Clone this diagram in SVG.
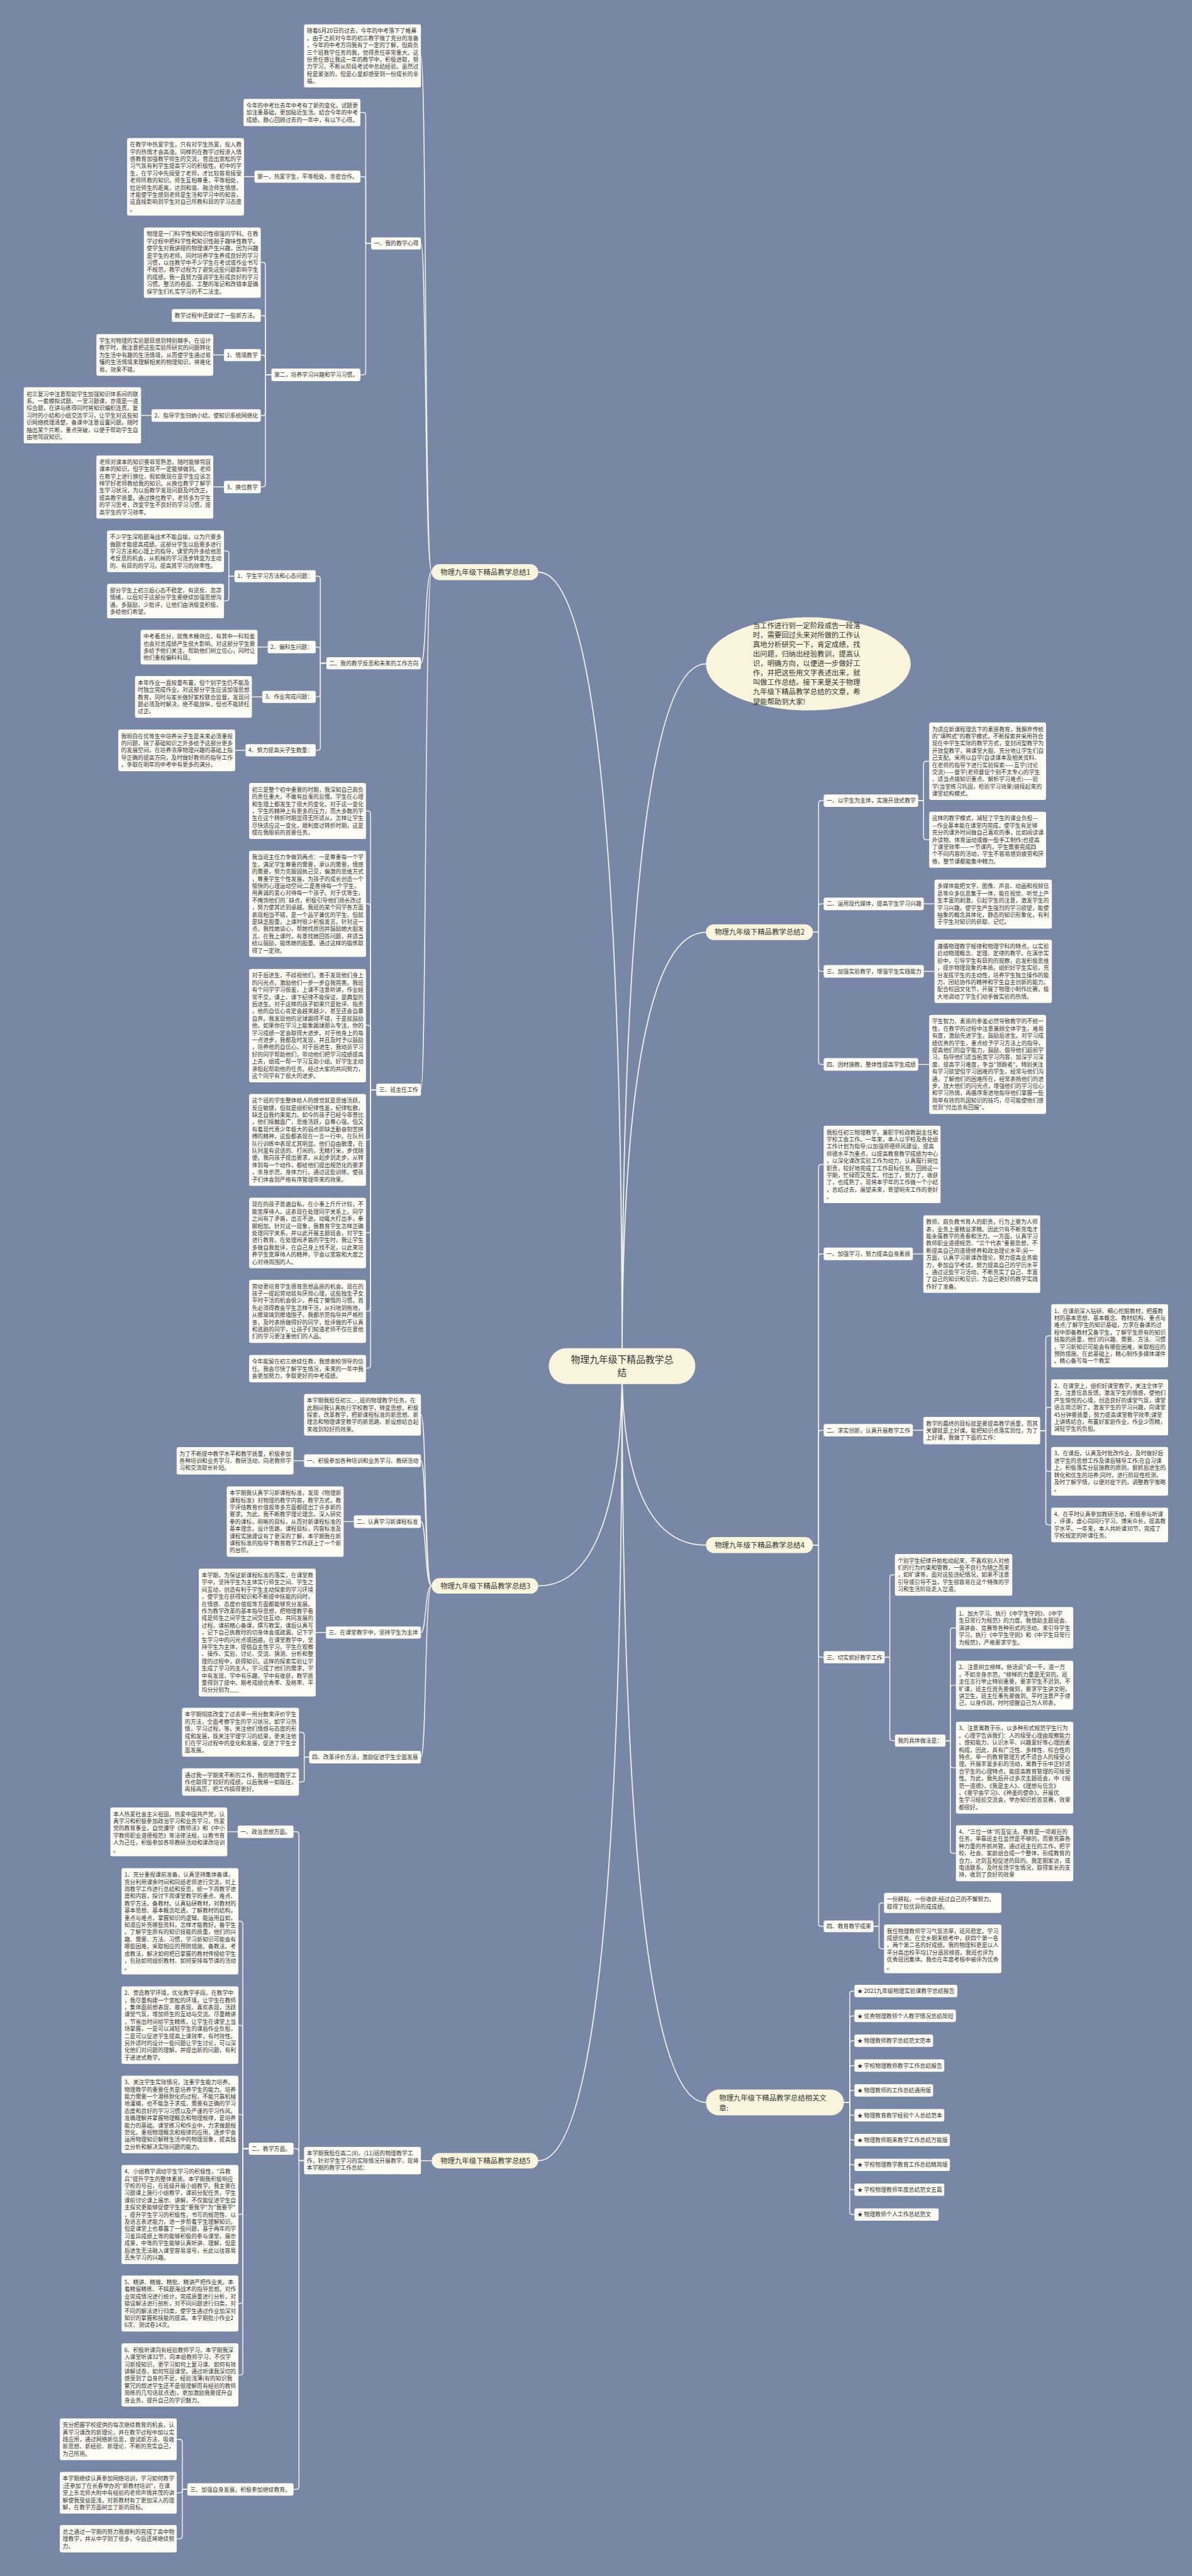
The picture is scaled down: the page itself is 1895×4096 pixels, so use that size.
<svg xmlns="http://www.w3.org/2000/svg" width="1895" height="4096" viewBox="0 0 1895 4096">
<style>
.bg{fill:#7987a6}
.n rect{fill:#fdfcf5}
.m rect,.m ellipse{fill:#f9f5dc}
.t{font-family:"Noto Sans CJK SC","Noto Sans",sans-serif;font-size:12px;fill:#333}
.mt{font-family:"Noto Sans CJK SC","Noto Sans",sans-serif;font-size:15.4px;fill:#333}
.ct{font-family:"Noto Sans CJK SC","Noto Sans",sans-serif;font-size:20px;fill:#333}
.c path{fill:none;stroke:#f4f2e6;stroke-width:2}
.c .k{stroke-width:2.4}
</style>
<rect class="bg" x="0" y="0" width="1895" height="4096"/>
<g transform="scale(0.74023)">
<g id="connectors" class="c">
<path class="k" d="M1336 2934C1336 1689 1260.4 1229 1156 1229"/>
<path class="k" d="M1336 2934C1336 1833 1411.6 1426 1516 1426"/>
<path class="k" d="M1336 2934C1336 2254 1411.6 2002.6 1516 2002.6"/>
<path class="k" d="M1336 2934C1336 3279 1260.4 3406.5 1156 3406.5"/>
<path class="k" d="M1336 2934C1336 3215 1411.6 3319 1516 3319"/>
<path class="k" d="M1336 2934C1336 4180 1260.4 4641.4 1156 4641.4"/>
<path class="k" d="M1336 2934C1336 4089 1411.6 4516.3 1516 4516.3"/>
<path d="M927 1229C912 1229 916 120 904 120"/>
<path d="M927 1229C912 1229 916 523 904 523"/>
<path d="M927 1229C912 1229 916 1424.7 904 1424.7"/>
<path d="M927 1229C912 1229 916 2340.7 904 2340.7"/>
<path d="M797 523H785.5V247.4Q785.5 241.4 779.5 241.4H774"/>
<path d="M797 523H785.5V385.5Q785.5 379.5 779.5 379.5H774"/>
<path d="M797 523H785.5V799.2Q785.5 805.2 779.5 805.2H774"/>
<path d="M546.6 379.5H524"/>
<path d="M583 805.2H570V569.7Q570 563.7 564 563.7H560"/>
<path d="M583 805.2H570V683.8Q570 677.8 564 677.8H560"/>
<path d="M583 805.2H570V768.8Q570 762.8 564 762.8H560"/>
<path d="M583 805.2H570V886.5Q570 892.5 564 892.5H560"/>
<path d="M583 805.2H570V1040Q570 1046 564 1046H560"/>
<path d="M481 762.5H458"/>
<path d="M325.6 892.3H303"/>
<path d="M481 1046H458"/>
<path d="M701 1424.7H688V1243.7Q688 1237.7 682 1237.7H678"/>
<path d="M701 1424.7H688V1396Q688 1390 682 1390H678"/>
<path d="M701 1424.7H688V1491Q688 1497 682 1497H678"/>
<path d="M701 1424.7H688V1605.8Q688 1611.8 682 1611.8H678"/>
<path d="M503.6 1237.7H491.5V1189.3Q491.5 1183.3 485.5 1183.3H481"/>
<path d="M503.6 1237.7H491.5V1284.8Q491.5 1290.8 485.5 1290.8H481"/>
<path d="M575 1390H553"/>
<path d="M563.3 1497H541"/>
<path d="M527.3 1611.8H505"/>
<path d="M808 2340.7H795.7V1748Q795.7 1742 789.7 1742H786"/>
<path d="M808 2340.7H795.7V1947.3Q795.7 1941.3 789.7 1941.3H786"/>
<path d="M808 2340.7H795.7V2208.4Q795.7 2202.4 789.7 2202.4H786"/>
<path d="M808 2340.7H795.7V2442.5Q795.7 2448.5 789.7 2448.5H786"/>
<path d="M808 2340.7H795.7V2642.3Q795.7 2648.3 789.7 2648.3H786"/>
<path d="M808 2340.7H795.7V2810.5Q795.7 2816.5 789.7 2816.5H786"/>
<path d="M808 2340.7H795.7V2933Q795.7 2939 789.7 2939H786"/>
<path d="M927 3406.5C912 3406.5 916 3039 904 3039"/>
<path d="M927 3406.5C912 3406.5 916 3137.8 904 3137.8"/>
<path d="M927 3406.5C912 3406.5 916 3268.5 904 3268.5"/>
<path d="M927 3406.5C912 3406.5 916 3506.7 904 3506.7"/>
<path d="M927 3406.5C912 3406.5 916 3774.5 904 3774.5"/>
<path d="M653 3137.8H630.4"/>
<path d="M760 3268.5H738"/>
<path d="M700 3506.7H678"/>
<path d="M664 3774.5H653.4V3727Q653.4 3721 647.4 3721H642"/>
<path d="M664 3774.5H653.4V3822Q653.4 3828 647.4 3828H642"/>
<path d="M927 4641.4H904"/>
<path d="M653 4641H642V3940.7Q642 3934.7 636 3934.7H630.4"/>
<path d="M653 4641H642V4621.5Q642 4615.5 636 4615.5H630.4"/>
<path d="M653 4641H642V5341.3Q642 5347.3 636 5347.3H630.4"/>
<path d="M510.4 3934.7H488"/>
<path d="M534.4 4615.5H521.4V4133Q521.4 4127 515.4 4127H512"/>
<path d="M534.4 4615.5H521.4V4356.3Q521.4 4350.3 515.4 4350.3H512"/>
<path d="M534.4 4615.5H521.4V4548Q521.4 4542 515.4 4542H512"/>
<path d="M534.4 4615.5H521.4V4751Q521.4 4757 515.4 4757H512"/>
<path d="M534.4 4615.5H521.4V4942.2Q521.4 4948.2 515.4 4948.2H512"/>
<path d="M534.4 4615.5H521.4V5095.6Q521.4 5101.6 515.4 5101.6H512"/>
<path d="M402.4 5347.3H391.5V5245.8Q391.5 5239.8 385.5 5239.8H379.5"/>
<path d="M402.4 5347.3H391.5V5348.8Q391.5 5354.8 385.5 5354.8H379.5"/>
<path d="M402.4 5347.3H391.5V5447.4Q391.5 5453.4 385.5 5453.4H379.5"/>
<path d="M1746 2002.6H1758V1725.8Q1758 1719.8 1764 1719.8H1769"/>
<path d="M1746 2002.6H1758V1947.5Q1758 1941.5 1764 1941.5H1769"/>
<path d="M1746 2002.6H1758V2080.5Q1758 2086.5 1764 2086.5H1769"/>
<path d="M1746 2002.6H1758V2280.5Q1758 2286.5 1764 2286.5H1769"/>
<path d="M1972 1719.8H1983.5V1641.3Q1983.5 1635.3 1989.5 1635.3H1995.6"/>
<path d="M1972 1719.8H1983.5V1797.9Q1983.5 1803.9 1989.5 1803.9H1995.6"/>
<path d="M1984 1941.5H2007"/>
<path d="M1984 2086.5H2007"/>
<path d="M1972 2286.5H1995.6"/>
<path d="M1746 3318.9H1758V2507.3Q1758 2501.3 1764 2501.3H1769"/>
<path d="M1746 3318.9H1758V2699.5Q1758 2693.5 1764 2693.5H1769"/>
<path d="M1746 3318.9H1758V3078.3Q1758 3072.3 1764 3072.3H1769"/>
<path d="M1746 3318.9H1758V3554Q1758 3560 1764 3560H1769"/>
<path d="M1746 3318.9H1758V4132Q1758 4138 1764 4138H1769"/>
<path d="M1960.5 2693.5H1983"/>
<path d="M1960.5 3072.3H1983"/>
<path d="M2234 3073H2246V2875.5Q2246 2869.5 2252 2869.5H2257.7"/>
<path d="M2234 3073H2246V3029.2Q2246 3023.2 2252 3023.2H2257.7"/>
<path d="M2234 3073H2246V3154.5Q2246 3160.5 2252 3160.5H2257.7"/>
<path d="M2234 3073H2246V3269.7Q2246 3275.7 2252 3275.7H2257.7"/>
<path d="M1900 3560H1911V3388.8Q1911 3382.8 1917 3382.8H1922"/>
<path d="M1900 3560H1911V3733Q1911 3739 1917 3739H1922"/>
<path d="M2030.6 3739H2041V3502.8Q2041 3496.8 2047 3496.8H2053"/>
<path d="M2030.6 3739H2041V3626Q2041 3620 2047 3620H2053"/>
<path d="M2030.6 3739H2041V3791.2Q2041 3797.2 2047 3797.2H2053"/>
<path d="M2030.6 3739H2041V3974.9Q2041 3980.9 2047 3980.9H2053"/>
<path d="M1876 4138H1888V4093.5Q1888 4087.5 1894 4087.5H1898.6"/>
<path d="M1876 4138H1888V4180.2Q1888 4186.2 1894 4186.2H1898.6"/>
<path d="M1812.5 4516.3H1825V4283Q1825 4277 1831 4277H1835"/>
<path d="M1812.5 4516.3H1825V4336.3Q1825 4330.3 1831 4330.3H1835"/>
<path d="M1812.5 4516.3H1825V4389.7Q1825 4383.7 1831 4383.7H1835"/>
<path d="M1812.5 4516.3H1825V4443Q1825 4437 1831 4437H1835"/>
<path d="M1812.5 4516.3H1825V4496.3Q1825 4490.3 1831 4490.3H1835"/>
<path d="M1812.5 4516.3H1825V4537.7Q1825 4543.7 1831 4543.7H1835"/>
<path d="M1812.5 4516.3H1825V4591Q1825 4597 1831 4597H1835"/>
<path d="M1812.5 4516.3H1825V4644.3Q1825 4650.3 1831 4650.3H1835"/>
<path d="M1812.5 4516.3H1825V4697.7Q1825 4703.7 1831 4703.7H1835"/>
<path d="M1812.5 4516.3H1825V4751Q1825 4757 1831 4757H1835"/>
</g>

<g id="center" class="m"><rect x="1178.6" y="2896" width="314.7" height="77" rx="38"/><text class="ct" text-anchor="middle"><tspan x="1336" y="2927">物理九年级下精品教学总</tspan><tspan x="1336" y="2956">结</tspan></text></g>

<g id="intro" class="m"><ellipse cx="1736" cy="1426" rx="220" ry="100"/><text class="mt"><tspan x="1617" y="1349.3">当工作进行到一定阶段或告一段落</tspan><tspan x="1617" dy="20.4">时，需要回过头来对所做的工作认</tspan><tspan x="1617" dy="20.4">真地分析研究一下，肯定成绩，找</tspan><tspan x="1617" dy="20.4">出问题，归纳出经验教训，提高认</tspan><tspan x="1617" dy="20.4">识，明确方向，以便进一步做好工</tspan><tspan x="1617" dy="20.4">作，并把这些用文字表述出来，就</tspan><tspan x="1617" dy="20.4">叫做工作总结。接下来是关于物理</tspan><tspan x="1617" dy="20.4">九年级下精品教学总结的文章，希</tspan><tspan x="1617" dy="20.4">望能帮助到大家!</tspan></text></g>

<g id="b1" class="m"><rect x="927" y="1211.8" width="229" height="34.4" rx="17"/><text class="mt" x="946" y="1234.5">物理九年级下精品教学总结1</text></g>
<g id="b2" class="m"><rect x="1516" y="1985.7" width="230" height="33.7" rx="17"/><text class="mt" x="1535" y="2008">物理九年级下精品教学总结2</text></g>
<g id="b3" class="m"><rect x="927" y="3389.9" width="229" height="33.4" rx="17"/><text class="mt" x="946" y="3412">物理九年级下精品教学总结3</text></g>
<g id="b4" class="m"><rect x="1516" y="3301.7" width="230" height="34.3" rx="17"/><text class="mt" x="1535" y="3324.4">物理九年级下精品教学总结4</text></g>
<g id="b5" class="m"><rect x="927" y="4625" width="229" height="33" rx="16.5"/><text class="mt" x="946" y="4647">物理九年级下精品教学总结5</text></g>
<g id="b6" class="m"><rect x="1516" y="4488.6" width="296.5" height="55.4" rx="27.7"/><text class="mt"><tspan x="1544.6" y="4512.5">物理九年级下精品教学总结相关文</tspan><tspan x="1544.6" dy="20.6">章:</tspan></text></g>

<g id="a1" class="n"><rect x="653" y="52.2" width="251" height="135.7" rx="4"/><text class="t"><tspan x="659" y="70.7">随着6月20日的过去，今年的中考落下了帷幕</tspan><tspan x="659" dy="15.4">。由于之前对今年的初三教学做了充分的准备</tspan><tspan x="659" dy="15.4">，今年的中考方向我有了一定的了解，但肩负</tspan><tspan x="659" dy="15.4">三个班教学任务的我，觉得责任非常重大。这</tspan><tspan x="659" dy="15.4">份责任感让我这一年的教学中，积极进取，努</tspan><tspan x="659" dy="15.4">力学习，不断从阶段考试中总结经验，虽然过</tspan><tspan x="659" dy="15.4">程是紧张的，但是心里却感受到一份成长的幸</tspan><tspan x="659" dy="15.4">福。</tspan></text></g>
<g id="s1a" class="n"><rect x="797" y="510" width="107" height="26" rx="4"/><text class="t" x="803" y="527.5">一、我的教学心得</text></g>
<g id="c1" class="n"><rect x="523" y="212.3" width="251" height="58.7" rx="4"/><text class="t"><tspan x="529" y="230.8">今年的中考比去年中考有了新的变化，试题更</tspan><tspan x="529" dy="15.4">加注重基础，更加贴近生活。结合今年的中考</tspan><tspan x="529" dy="15.4">成绩，静心回顾过去的一年中，有以下心得。</tspan></text></g>
<g id="c2" class="n"><rect x="546.6" y="366.5" width="227.4" height="26" rx="4"/><text class="t" x="552.6" y="384">第一，热爱学生，平等相处，亲密合作。</text></g>
<g id="d1" class="n"><rect x="273" y="296.5" width="251" height="166.5" rx="4"/><text class="t"><tspan x="279" y="315">在教学中热爱学生，只有对学生热爱，投入教</tspan><tspan x="279" dy="15.4">学的热情才会高涨。同样的在教学过程渗入情</tspan><tspan x="279" dy="15.4">感教育加强教学师生的交流，营造出宽松的学</tspan><tspan x="279" dy="15.4">习气氛有利学生提高学习的积极性。初中的学</tspan><tspan x="279" dy="15.4">生，在学习中先接受了老师，才比较容易接受</tspan><tspan x="279" dy="15.4">老师所教的知识。师生互相尊重，平等相处，</tspan><tspan x="279" dy="15.4">拉近师生的距离，达到和谐、融洽师生情感，</tspan><tspan x="279" dy="15.4">才能使学生感到老师是生活和学习中的知音，</tspan><tspan x="279" dy="15.4">这直接影响到学生对自己所教科目的学习态度</tspan><tspan x="279" dy="15.4">。</tspan></text></g>
<g id="c3" class="n"><rect x="583" y="791.8" width="191" height="26.7" rx="4"/><text class="t" x="589" y="809.5">第二，培养学习兴趣和学习习惯。</text></g>
<g id="d2" class="n"><rect x="309" y="488.7" width="251" height="151.1" rx="4"/><text class="t"><tspan x="315" y="507.2">物理是一门科学性和知识性很强的学科。在教</tspan><tspan x="315" dy="15.4">学过程中把科学性和知识性融于趣味性教学，</tspan><tspan x="315" dy="15.4">使学生对我讲授的物理课产生兴趣，因为兴趣</tspan><tspan x="315" dy="15.4">是学生的老师。同时培养学生养成良好的学习</tspan><tspan x="315" dy="15.4">习惯，以往教学中不少学生在考试或作业书写</tspan><tspan x="315" dy="15.4">不规范，教学过程为了避免这些问题影响学生</tspan><tspan x="315" dy="15.4">的成绩，我一直努力强调学生形成良好的学习</tspan><tspan x="315" dy="15.4">习惯。整洁的卷面、工整的笔记和改错本是确</tspan><tspan x="315" dy="15.4">保学生们扎实学习的不二法宝。</tspan></text></g>
<g id="d3" class="n"><rect x="369" y="664" width="191" height="27.5" rx="4"/><text class="t" x="375" y="682">教学过程中还尝试了一些新方法。</text></g>
<g id="d4" class="n"><rect x="481" y="749.7" width="79" height="26.1" rx="4"/><text class="t" x="487" y="767">1、情境教学</text></g>
<g id="e1" class="n"><rect x="207" y="717.7" width="251" height="89.5" rx="4"/><text class="t"><tspan x="213" y="736.2">学生对物理的实验题目感到特别棘手。在设计</tspan><tspan x="213" dy="15.4">教学时，我注意把这些实验所研究的问题转化</tspan><tspan x="213" dy="15.4">为生活中有趣的生活情境，从而使学生通过易</tspan><tspan x="213" dy="15.4">懂的生活情境来理解相关的物理知识，将难化</tspan><tspan x="213" dy="15.4">易，效果不错。</tspan></text></g>
<g id="d5" class="n"><rect x="325.6" y="879" width="234.4" height="27" rx="4"/><text class="t" x="331.6" y="897">2、指导学生归纳小结，使知识系统网络化</text></g>
<g id="e2" class="n"><rect x="51" y="832" width="252" height="120.3" rx="4"/><text class="t"><tspan x="57" y="850.5">初三复习中注意帮助学生加强知识体系间的联</tspan><tspan x="57" dy="15.4">系。一套模拟试题、一堂习题课，亦或是一道</tspan><tspan x="57" dy="15.4">综合题，在讲与练得同时将知识编织连贯。复</tspan><tspan x="57" dy="15.4">习时的小结和小组交流学习，让学生对这些知</tspan><tspan x="57" dy="15.4">识网络梳理清楚，备课中注意设置问题，随时</tspan><tspan x="57" dy="15.4">抽出某个片断，重点突破，以便于帮助学生自</tspan><tspan x="57" dy="15.4">由地驾驭知识。</tspan></text></g>
<g id="d6" class="n"><rect x="481" y="1032.7" width="79" height="26.7" rx="4"/><text class="t" x="487" y="1050.5">3、换位教学</text></g>
<g id="e3" class="n"><rect x="207" y="978.3" width="251" height="135.7" rx="4"/><text class="t"><tspan x="213" y="996.8">老师对课本的知识要非常熟悉，随时能够驾驭</tspan><tspan x="213" dy="15.4">课本的知识，但学生就不一定能够做到。老师</tspan><tspan x="213" dy="15.4">在教学上进行换位，假如我现在是学生应该怎</tspan><tspan x="213" dy="15.4">样学好老师教给我的知识。从换位教学了解学</tspan><tspan x="213" dy="15.4">生学习状况，为以后教学发现问题及时改正，</tspan><tspan x="213" dy="15.4">提高教学质量。通过换位教学，老师多为学生</tspan><tspan x="213" dy="15.4">的学习思考，改变学生不良好的学习习惯，提</tspan><tspan x="213" dy="15.4">高学生的学习效率。</tspan></text></g>

<g id="s1b" class="n"><rect x="701" y="1411.7" width="203" height="26.1" rx="4"/><text class="t" x="707" y="1429">二、我的教学反思和未来的工作方向</text></g>
<g id="f1" class="n"><rect x="503.6" y="1225" width="174.4" height="25.5" rx="4"/><text class="t" x="509.6" y="1242">1、学生学习方法和心态问题：</text></g>
<g id="g1" class="n"><rect x="230" y="1139.4" width="251" height="89.5" rx="4"/><text class="t"><tspan x="236" y="1157.9">不少学生深陷题海战术不能自拔，以为只要多</tspan><tspan x="236" dy="15.4">做题才能提高成绩。这部分学生以后要多进行</tspan><tspan x="236" dy="15.4">学习方法和心理上的指导，课堂内外多给他思</tspan><tspan x="236" dy="15.4">考反思的机会，从机械的学习逐步转变为主动</tspan><tspan x="236" dy="15.4">的、有目的的学习。提高其学习的效率性。</tspan></text></g>
<g id="g2" class="n"><rect x="230" y="1254" width="251" height="74.1" rx="4"/><text class="t"><tspan x="236" y="1272.5">部分学生上初三后心态不稳定，有逆反、悲凉</tspan><tspan x="236" dy="15.4">情绪，以后对于这部分学生要继续加强思想沟</tspan><tspan x="236" dy="15.4">通，多鼓励，少批评，让他们由消极变积极，</tspan><tspan x="236" dy="15.4">多给他们希望。</tspan></text></g>
<g id="f2" class="n"><rect x="575" y="1376.7" width="103" height="26.7" rx="4"/><text class="t" x="581" y="1394.5">2、偏科生问题：</text></g>
<g id="g3" class="n"><rect x="302" y="1353" width="251" height="74.1" rx="4"/><text class="t"><tspan x="308" y="1371.5">中考看总分，就像木桶效应，有其中一科较差</tspan><tspan x="308" dy="15.4">也会对总成绩产生很大影响。对这部分学生要</tspan><tspan x="308" dy="15.4">多给予他们关注，帮助他们树立信心，同时让</tspan><tspan x="308" dy="15.4">他们重视偏科科目。</tspan></text></g>
<g id="f3" class="n"><rect x="563.3" y="1484" width="114.7" height="26" rx="4"/><text class="t" x="569.3" y="1501.5">3、作业完成问题：</text></g>
<g id="g4" class="n"><rect x="290" y="1452.3" width="251" height="89.5" rx="4"/><text class="t"><tspan x="296" y="1470.8">本年作业一直按量布置，但个别学生仍不能及</tspan><tspan x="296" dy="15.4">时独立完成作业。对这部分学生应该加强思想</tspan><tspan x="296" dy="15.4">教育，同时与家长做好家校联合监督，发现问</tspan><tspan x="296" dy="15.4">题必须及时解决，绝不能放纵，但也不能矫枉</tspan><tspan x="296" dy="15.4">过正。</tspan></text></g>
<g id="f4" class="n"><rect x="527.3" y="1598.5" width="150.7" height="26.5" rx="4"/><text class="t" x="533.3" y="1616">4、努力提高尖子生数量：</text></g>
<g id="g5" class="n"><rect x="254" y="1567" width="251" height="89.5" rx="4"/><text class="t"><tspan x="260" y="1585.5">我明白在优等生中培养尖子生是未来必须重视</tspan><tspan x="260" dy="15.4">的问题，除了基础知识之外多给予这部分更多</tspan><tspan x="260" dy="15.4">的发展空间，在培养浓厚物理兴趣的基础上指</tspan><tspan x="260" dy="15.4">导正确的提高方向，及时做好教师的指导工作</tspan><tspan x="260" dy="15.4">，争取在明年的中考中有更多的满分。</tspan></text></g>

<g id="s1c" class="n"><rect x="808" y="2327.5" width="96" height="26.5" rx="4"/><text class="t" x="814" y="2345">三、班主任工作</text></g>
<g id="h1" class="n"><rect x="535" y="1682" width="251" height="120.3" rx="4"/><text class="t"><tspan x="541" y="1700.5">初三是整个初中重要的时期，我深知自己肩负</tspan><tspan x="541" dy="15.4">的责任重大，不敢有丝毫的怠慢。学生在心理</tspan><tspan x="541" dy="15.4">和生理上都发生了很大的变化，对于这一变化</tspan><tspan x="541" dy="15.4">，学生的精神上有更多的压力，而大多数的学</tspan><tspan x="541" dy="15.4">生在这个转折时期显得无所适从。怎样让学生</tspan><tspan x="541" dy="15.4">尽快适应这一变化，顺利度过转折时期，这是</tspan><tspan x="541" dy="15.4">摆在我眼前的首要任务。</tspan></text></g>
<g id="h2" class="n"><rect x="535" y="1827.5" width="251" height="228.1" rx="4"/><text class="t"><tspan x="541" y="1846">我当班主任力争做到两点：一是尊重每一个学</tspan><tspan x="541" dy="15.4">生，满足学生尊重的需要，承认的需要，情感</tspan><tspan x="541" dy="15.4">的需要，努力克服固执己见，偏激的思维方式</tspan><tspan x="541" dy="15.4">，尊重学生个性发展，为孩子的成长创造一个</tspan><tspan x="541" dy="15.4">愉快的心理运动空间;二是善待每一个学生，</tspan><tspan x="541" dy="15.4">用真诚的爱心对待每一个孩子。对于优等生，</tspan><tspan x="541" dy="15.4">不掩饰他们的`缺点，积极引导他们扬长改过</tspan><tspan x="541" dy="15.4">，努力使其达到卓越。我班的某个同学各方面</tspan><tspan x="541" dy="15.4">表现相当不错，是一个品学兼优的学生，但就</tspan><tspan x="541" dy="15.4">是缺乏胆量，上课时很少积极发言。针对这一</tspan><tspan x="541" dy="15.4">点，我找她谈心，帮她找原因并鼓励她大胆发</tspan><tspan x="541" dy="15.4">言。在我上课时，有意找她回答问题，并适当</tspan><tspan x="541" dy="15.4">给以鼓励，锻炼她的胆量。通过这样的锻炼取</tspan><tspan x="541" dy="15.4">得了一定效。</tspan></text></g>
<g id="h3" class="n"><rect x="535" y="2081.4" width="251" height="243.5" rx="4"/><text class="t"><tspan x="541" y="2099.9">对于后进生，不歧视他们，善于发现他们身上</tspan><tspan x="541" dy="15.4">的闪光点，激励他们一步一步自我完善。我班</tspan><tspan x="541" dy="15.4">有个同学学习很差，上课不注意听讲，作业经</tspan><tspan x="541" dy="15.4">常不交，课上、课下纪律不能保证，是典型的</tspan><tspan x="541" dy="15.4">后进生。对于这样的孩子如果只是批评、指责</tspan><tspan x="541" dy="15.4">，他的自信心肯定会越来越少，甚至还会自暴</tspan><tspan x="541" dy="15.4">自弃。我发现他的足球踢得不错，于是就鼓励</tspan><tspan x="541" dy="15.4">他，如果你在学习上能象踢球那么专注，你的</tspan><tspan x="541" dy="15.4">学习成绩一定会取得大进步。对于他身上的每</tspan><tspan x="541" dy="15.4">一点进步，我都及时发现，并且及时予以鼓励</tspan><tspan x="541" dy="15.4">，培养他的自信心。对于后进生，我动员学习</tspan><tspan x="541" dy="15.4">好的同学帮助他们，带动他们把学习成绩提高</tspan><tspan x="541" dy="15.4">上去，组成一帮一学习互助小组。好学生主动</tspan><tspan x="541" dy="15.4">承担起帮助他的任务。经过大家的共同努力，</tspan><tspan x="541" dy="15.4">这个同学有了很大的进步。</tspan></text></g>
<g id="h4" class="n"><rect x="535" y="2350" width="251" height="197.3" rx="4"/><text class="t"><tspan x="541" y="2368.5">这个班的学生整体给人的感觉就是思维活跃，</tspan><tspan x="541" dy="15.4">反应敏捷，但就是组织纪律性差，纪律松散，</tspan><tspan x="541" dy="15.4">缺乏自我约束能力。如今的孩子已经今非昔比</tspan><tspan x="541" dy="15.4">，他们接触面广，思维活跃，自尊心强，但又</tspan><tspan x="541" dy="15.4">有着现代青少年极大的弱点即缺乏勤奋刻苦拼</tspan><tspan x="541" dy="15.4">搏的精神，这些都表现在一言一行中。在队列</tspan><tspan x="541" dy="15.4">队行训练中表现尤其明显。他们自由散漫，在</tspan><tspan x="541" dy="15.4">队列里有说话的、打闹的，无精打采，步伐随</tspan><tspan x="541" dy="15.4">便。我向孩子提出要求，从起步到走步，从转</tspan><tspan x="541" dy="15.4">体到每一个动作，都给他们提出规范化的要求</tspan><tspan x="541" dy="15.4">，亲身示范，身体力行。通过这些训练，使孩</tspan><tspan x="541" dy="15.4">子们体会到严格有序管理带来的效果。</tspan></text></g>
<g id="h5" class="n"><rect x="535" y="2573" width="251" height="151.1" rx="4"/><text class="t"><tspan x="541" y="2591.5">现在的孩子普遍自私，在小事上斤斤计较，不</tspan><tspan x="541" dy="15.4">能宽厚待人。这表现在处理同学关系上，同学</tspan><tspan x="541" dy="15.4">之间有了矛盾，出言不逊，动辄大打出手，拳</tspan><tspan x="541" dy="15.4">脚相加。针对这一现象，我教育学生怎样正确</tspan><tspan x="541" dy="15.4">处理同学关系，并以此开展主题班会，对学生</tspan><tspan x="541" dy="15.4">进行教育。在处理闹矛盾的学生时，我让学生</tspan><tspan x="541" dy="15.4">多做自我批评，在自己身上找不足，以此来培</tspan><tspan x="541" dy="15.4">养学生宽厚待人的精神，学会以宽容和大度之</tspan><tspan x="541" dy="15.4">心对待周围的人。</tspan></text></g>
<g id="h6" class="n"><rect x="535" y="2749" width="251" height="135.7" rx="4"/><text class="t"><tspan x="541" y="2767.5">劳动更培育学生德育思想品质的机会。现在的</tspan><tspan x="541" dy="15.4">孩子一提起劳动就有厌烦心理，这些独生子女</tspan><tspan x="541" dy="15.4">平时干活的机会很少，养成了懒惰的习惯。首</tspan><tspan x="541" dy="15.4">先必须得教会学生怎样干活，从扫地到拖地，</tspan><tspan x="541" dy="15.4">从擦玻璃到擦墙围子，我都示范指导并严格检</tspan><tspan x="541" dy="15.4">查，及时表扬做得好的同学，批评做的不认真</tspan><tspan x="541" dy="15.4">和逃跑的同学，让孩子们知道老师不仅在意他</tspan><tspan x="541" dy="15.4">们的学习更注重他们的人品。</tspan></text></g>
<g id="h7" class="n"><rect x="535" y="2910.6" width="251" height="58.7" rx="4"/><text class="t"><tspan x="541" y="2929.1">今年能留在初三继续任教，我感谢校领导的信</tspan><tspan x="541" dy="15.4">任。我会尽快了解学生情况，未来的一年中我</tspan><tspan x="541" dy="15.4">会更加努力，争取更好的中考成绩。</tspan></text></g>

<g id="i1" class="n"><rect x="653" y="2994.3" width="251" height="89.5" rx="4"/><text class="t"><tspan x="659" y="3012.8">本学期我担任初三_-_班的物理教学任务，在</tspan><tspan x="659" dy="15.4">此期间我认真执行学校教学，转变思想，积极</tspan><tspan x="659" dy="15.4">探索，改革教学，把新课程标准的新思想、新</tspan><tspan x="659" dy="15.4">理念和物理课堂教学的新思路、新设想结合起</tspan><tspan x="659" dy="15.4">来收到较好的效果。</tspan></text></g>
<g id="i2" class="n"><rect x="653" y="3124" width="251" height="27.5" rx="4"/><text class="t" x="659" y="3142">一、积极参加各种培训和业务学习、教研活动</text></g>
<g id="j1" class="n"><rect x="379.4" y="3108.5" width="251" height="58.7" rx="4"/><text class="t"><tspan x="385.4" y="3127">为了不断提中教学水平和教学质量，积极参加</tspan><tspan x="385.4" dy="15.4">各种培训和业务学习、教研活动，向老教师学</tspan><tspan x="385.4" dy="15.4">习和交流取长补短。</tspan></text></g>
<g id="i3" class="n"><rect x="760" y="3255" width="144" height="27" rx="4"/><text class="t" x="766" y="3273">二、认真学习新课程标准</text></g>
<g id="j2" class="n"><rect x="487" y="3193" width="251" height="151.1" rx="4"/><text class="t"><tspan x="493" y="3211.5">本学期我认真学习新课程标准，发现《物理新</tspan><tspan x="493" dy="15.4">课程标准》对物理的教学内容，教学方式，教</tspan><tspan x="493" dy="15.4">学评估教育价值观等多方面都提出了许多新的</tspan><tspan x="493" dy="15.4">要求。为此，我不断教学理论理念，深入研究</tspan><tspan x="493" dy="15.4">拳的课标，明晰的目标，从而对新课程标准的</tspan><tspan x="493" dy="15.4">基本理念，设计思路，课程目标，内容标准及</tspan><tspan x="493" dy="15.4">课程实施建议有了更深的了解，本学期我在新</tspan><tspan x="493" dy="15.4">课程标准的指导下教育教学工作跃上了一个新</tspan><tspan x="493" dy="15.4">的台阶。</tspan></text></g>
<g id="i4" class="n"><rect x="700" y="3493.7" width="204" height="26.1" rx="4"/><text class="t" x="706" y="3511">三、在课堂教学中，坚持学生为主体</text></g>
<g id="j3" class="n"><rect x="427" y="3369.7" width="251" height="274.3" rx="4"/><text class="t"><tspan x="433" y="3388.2">本学期，为保证新课程标准的落实，在课堂教</tspan><tspan x="433" dy="15.4">学中，坚持学生为主体实行师生之间、学生之</tspan><tspan x="433" dy="15.4">间互动，创造有利于学生主动探索的学习环境</tspan><tspan x="433" dy="15.4">，使学生在获得知识和不断提中技能的同时，</tspan><tspan x="433" dy="15.4">在情感、态度价值观等方面都能够充分发展。</tspan><tspan x="433" dy="15.4">作为教学改革的基本指导思想，把物理教学看</tspan><tspan x="433" dy="15.4">成是师生之间学生之间交往互动，共同发展的</tspan><tspan x="433" dy="15.4">过程。课前精心备课，撰写教案，课后认真写</tspan><tspan x="433" dy="15.4">，记下自己执教时的切身体会或疏漏，记下学</tspan><tspan x="433" dy="15.4">生学习中的闪光点或困惑。在课堂教学中，坚</tspan><tspan x="433" dy="15.4">持学生为主体，提倡自主性学习，学生在观察</tspan><tspan x="433" dy="15.4">、操作、实验、讨论、交流、猜测、分析和整</tspan><tspan x="433" dy="15.4">理的过程中，获得知识。这样的探索实验让学</tspan><tspan x="433" dy="15.4">生成了学习的主人，学习成了他们的需求，学</tspan><tspan x="433" dy="15.4">中有发现，学中有乐趣，学中有收获，教学质</tspan><tspan x="433" dy="15.4">量得到了提中。期考成绩优秀率、及格率、平</tspan><tspan x="433" dy="15.4">均分分别为___</tspan></text></g>
<g id="i5" class="n"><rect x="664" y="3761" width="240" height="27" rx="4"/><text class="t" x="670" y="3779">四、改革评价方法，激励促进学生全面发展</text></g>
<g id="j4" class="n"><rect x="391" y="3668.6" width="251" height="104.9" rx="4"/><text class="t"><tspan x="397" y="3687.1">本学期彻底改变了过去单一用分数来评价学生</tspan><tspan x="397" dy="15.4">的方法，全面考察学生的学习状况，如学习热</tspan><tspan x="397" dy="15.4">情，学习过程，等，关注他们情感与态度的形</tspan><tspan x="397" dy="15.4">成和发展，既关注学理学习的结果，更关注他</tspan><tspan x="397" dy="15.4">们在学习过程中的变化和发展，促进了学生全</tspan><tspan x="397" dy="15.4">面发展。</tspan></text></g>
<g id="j5" class="n"><rect x="391" y="3798.6" width="251" height="58.7" rx="4"/><text class="t"><tspan x="397" y="3817.1">通过我一学期来不断的工作，我的物理教学工</tspan><tspan x="397" dy="15.4">作也取得了较好的成绩，以后我将一如既往，</tspan><tspan x="397" dy="15.4">再接再厉，把工作搞得更好。</tspan></text></g>

<g id="k1" class="n"><rect x="653" y="4611.7" width="251" height="58.7" rx="4"/><text class="t"><tspan x="659" y="4630.2">本学期我担任高二(8)、(11)班的物理教学工</tspan><tspan x="659" dy="15.4">作，针对学生学习的实际情况开展教学，现将</tspan><tspan x="659" dy="15.4">本学期的教学工作总结：</tspan></text></g>
<g id="l1" class="n"><rect x="510.4" y="3921.4" width="120" height="26.6" rx="4"/><text class="t" x="516.4" y="3939">一、政治思想方面。</text></g>
<g id="m1" class="n"><rect x="237" y="3882.5" width="251" height="104.9" rx="4"/><text class="t"><tspan x="243" y="3901">本人热爱社会主义祖国，热爱中国共产党，认</tspan><tspan x="243" dy="15.4">真学习和积极参加政治学习和业务学习，热爱</tspan><tspan x="243" dy="15.4">党的教育事业，自觉遵守《教师法》和《中小</tspan><tspan x="243" dy="15.4">学教师职业道德规范》等法律法规，以教书育</tspan><tspan x="243" dy="15.4">人为己任，积极参加各项教研活动和课改培训</tspan><tspan x="243" dy="15.4">。</tspan></text></g>
<g id="l2" class="n"><rect x="534.4" y="4602.5" width="96" height="26" rx="4"/><text class="t" x="540.4" y="4620">二、教学方面。</text></g>
<g id="m2" class="n"><rect x="261" y="4013" width="251" height="228.1" rx="4"/><text class="t"><tspan x="267" y="4031.5">1、充分重视课前准备。认真坚持集体备课，</tspan><tspan x="267" dy="15.4">充分利用课余时间和同组老师进行交流，对上</tspan><tspan x="267" dy="15.4">周教学工作进行总结和反思，统一下周教学进</tspan><tspan x="267" dy="15.4">度和内容，探讨下周课堂教学的重点、难点、</tspan><tspan x="267" dy="15.4">教学方法。备教材。认真钻研教材，对教材的</tspan><tspan x="267" dy="15.4">基本思想、基本概念吃透，了解教材的结构，</tspan><tspan x="267" dy="15.4">重点与难点，掌握知识的逻辑，能运用自如，</tspan><tspan x="267" dy="15.4">知道应补充哪些资料，怎样才能教好。备学生</tspan><tspan x="267" dy="15.4">。了解学生原有的知识技能的质量，他们的兴</tspan><tspan x="267" dy="15.4">趣、需要、方法、习惯，学习新知识可能会有</tspan><tspan x="267" dy="15.4">哪些困难，采取相应的预防措施。备教法。考</tspan><tspan x="267" dy="15.4">虑教法，解决如何把已掌握的教材传授给学生</tspan><tspan x="267" dy="15.4">，包括如何组织教材、如何安排每节课的活动</tspan><tspan x="267" dy="15.4">。</tspan></text></g>
<g id="m3" class="n"><rect x="261" y="4267" width="251" height="166.5" rx="4"/><text class="t"><tspan x="267" y="4285.5">2、营造教学环境，优化教学手段。在教学中</tspan><tspan x="267" dy="15.4">，我尽量构建一个宽松的环境，让学生在教师</tspan><tspan x="267" dy="15.4">，集体面前想表现、敢表现、喜欢表现，活跃</tspan><tspan x="267" dy="15.4">课堂气氛，增加师生的互动与交流。尽量精讲</tspan><tspan x="267" dy="15.4">，节省出时间给学生精练，让学生在课堂上当</tspan><tspan x="267" dy="15.4">场掌握，一是可以减轻学生的课后作业负担，</tspan><tspan x="267" dy="15.4">二是可以促进学生提高上课效率，有时效性。</tspan><tspan x="267" dy="15.4">另外适时的设计一些问题让学生讨论，可以深</tspan><tspan x="267" dy="15.4">化他们对问题的理解，并提出新的问题，有利</tspan><tspan x="267" dy="15.4">于递进式教学。</tspan></text></g>
<g id="m4" class="n"><rect x="261" y="4458.7" width="251" height="166.5" rx="4"/><text class="t"><tspan x="267" y="4477.2">3、关注学生实际情况，注重学生能力培养。</tspan><tspan x="267" dy="15.4">物理教学的重要任务是培养学生的能力。培养</tspan><tspan x="267" dy="15.4">能力需要一个潜移默化的过程，不能只靠机械</tspan><tspan x="267" dy="15.4">地灌输，也不能急于求成，需要有正确的学习</tspan><tspan x="267" dy="15.4">态度和良好的学习习惯以及严谨的学习作风。</tspan><tspan x="267" dy="15.4">准确理解并掌握物理概念和物理规律，是培养</tspan><tspan x="267" dy="15.4">能力的基础。课堂练习和作业中，力求做题规</tspan><tspan x="267" dy="15.4">范化。重视物理概念和规律的应用，逐步学会</tspan><tspan x="267" dy="15.4">运用物理知识解释生活中的物理现象，提高独</tspan><tspan x="267" dy="15.4">立分析和解决实际问题的能力。</tspan></text></g>
<g id="m5" class="n"><rect x="261" y="4650.6" width="251" height="212.7" rx="4"/><text class="t"><tspan x="267" y="4669.1">4、小组教学调动学生学习的积极性，"兵教</tspan><tspan x="267" dy="15.4">兵"提升学生的整体素质。本学期我积极响应</tspan><tspan x="267" dy="15.4">学校的号召，在班级开展小组教学。我主要在</tspan><tspan x="267" dy="15.4">习题课上施行小组教学，课前分配任务，学生</tspan><tspan x="267" dy="15.4">课前讨论课上展示、讲解，不仅能促进学生自</tspan><tspan x="267" dy="15.4">主探究更能够促使学生变"要我学"为"我要学"</tspan><tspan x="267" dy="15.4">，提升学生学习的积极性，书写的规范性、以</tspan><tspan x="267" dy="15.4">及语言表述能力，进一步帮着学生理解知识。</tspan><tspan x="267" dy="15.4">但是课堂上也暴露了一些问题，基于两年的学</tspan><tspan x="267" dy="15.4">习差异成绩上等的能够积极的参与课堂，展示</tspan><tspan x="267" dy="15.4">成果，中等的学生能够认真听讲、理解，但是</tspan><tspan x="267" dy="15.4">后进生无法融入课堂容易溜号，长此以往容易</tspan><tspan x="267" dy="15.4">丢失学习的兴趣。</tspan></text></g>
<g id="m6" class="n"><rect x="261" y="4888" width="251" height="120.3" rx="4"/><text class="t"><tspan x="267" y="4906.5">5、精讲、精做、精批、精讲严把作业关。本</tspan><tspan x="267" dy="15.4">着精留精练、不搞题海战术的指导思想。对作</tspan><tspan x="267" dy="15.4">业完成情况进行统计，完成质量进行分析，对</tspan><tspan x="267" dy="15.4">错误解法进行剖析，对不同问题进行归类，对</tspan><tspan x="267" dy="15.4">不同的解法进行归类，使学生通过作业加深对</tspan><tspan x="267" dy="15.4">知识的掌握和技能的提高。本学期批小作业2</tspan><tspan x="267" dy="15.4">6次、测试卷14次。</tspan></text></g>
<g id="m7" class="n"><rect x="261" y="5033.7" width="251" height="135.7" rx="4"/><text class="t"><tspan x="267" y="5052.2">6、积极听课向有经验教师学习。本学期我深</tspan><tspan x="267" dy="15.4">入课堂听课32节，向本组教师学习，不仅学</tspan><tspan x="267" dy="15.4">习新授知识，更学习如何上复习课、如何有效</tspan><tspan x="267" dy="15.4">讲解试卷，如何驾驭课堂。通过听课我深切的</tspan><tspan x="267" dy="15.4">感受到了自身的不足，经验浅薄(有的知识我</tspan><tspan x="267" dy="15.4">繁冗的叙述学生还不是很理解而有经验的教师</tspan><tspan x="267" dy="15.4">简练的几句话就点透)，更加激励我要提升自</tspan><tspan x="267" dy="15.4">身业务，提升自己的学识魅力。</tspan></text></g>
<g id="l3" class="n"><rect x="402.4" y="5334" width="228" height="26.7" rx="4"/><text class="t" x="408.4" y="5351.8">三、加强自身发展，积极参加继续教育。</text></g>
<g id="n1" class="n"><rect x="128.5" y="5195" width="251" height="89.5" rx="4"/><text class="t"><tspan x="134.5" y="5213.5">充分把握学校提供的每次继续教育的机会，认</tspan><tspan x="134.5" dy="15.4">真学习课改的新理论，并在教学过程中加以实</tspan><tspan x="134.5" dy="15.4">践应用，通过网络新信息，尝试新方法、吸收</tspan><tspan x="134.5" dy="15.4">新思想、新经验、新理论、不断的充实自己，</tspan><tspan x="134.5" dy="15.4">为己所用。</tspan></text></g>
<g id="n2" class="n"><rect x="128.5" y="5310" width="251" height="89.5" rx="4"/><text class="t"><tspan x="134.5" y="5328.5">本学期继续认真参加网络培训，学习如何教学</tspan><tspan x="134.5" dy="15.4">;还参加了在长春举办的"新教材培训"，在课</tspan><tspan x="134.5" dy="15.4">堂上东北师大附中有经验的老师声情并茂的讲</tspan><tspan x="134.5" dy="15.4">解使我受益匪浅，对新教材有了更加深入的理</tspan><tspan x="134.5" dy="15.4">解，在教学方面树立了新的目标。</tspan></text></g>
<g id="n3" class="n"><rect x="128.5" y="5424" width="251" height="58.7" rx="4"/><text class="t"><tspan x="134.5" y="5442.5">总之通过一学期的努力我顺利的完成了高中物</tspan><tspan x="134.5" dy="15.4">理教学，并从中学到了很多，今后还将继续努</tspan><tspan x="134.5" dy="15.4">力。</tspan></text></g>

<g id="p1" class="n"><rect x="1769" y="1706.5" width="203" height="26.6" rx="4"/><text class="t" x="1775" y="1724.3">一、以学生为主体，实施开放式教学</text></g>
<g id="q1" class="n"><rect x="1995.6" y="1552" width="251" height="166.5" rx="4"/><text class="t"><tspan x="2001.6" y="1570.5">为适应新课程理念下的素质教育，我摒弃传统</tspan><tspan x="2001.6" dy="15.4">的"填鸭式"的教学模式，不断探索并采用符合</tspan><tspan x="2001.6" dy="15.4">现在中学生实际的教学方式，变封闭型教学为</tspan><tspan x="2001.6" dy="15.4">开放型教学，将课堂大胆、充分地让学生们自</tspan><tspan x="2001.6" dy="15.4">己支配。采用以自学(自读课本及相关资料、</tspan><tspan x="2001.6" dy="15.4">在老师的指导下进行实验探索——互学(讨论</tspan><tspan x="2001.6" dy="15.4">交流)——督学(老师督促个别不太专心的学生</tspan><tspan x="2001.6" dy="15.4">、适当点拨知识重点、解析学习难点)——验</tspan><tspan x="2001.6" dy="15.4">学(当堂练习巩固，检验学习效果)链接起来的</tspan><tspan x="2001.6" dy="15.4">课堂结构模式。</tspan></text></g>
<g id="q2" class="n"><rect x="1995.6" y="1743.7" width="251" height="120.3" rx="4"/><text class="t"><tspan x="2001.6" y="1762.2">这样的教学模式，减轻了学生的课业负担—</tspan><tspan x="2001.6" dy="15.4">—作业基本能在课堂内完成，使学生有足够</tspan><tspan x="2001.6" dy="15.4">充分的课外时间做自己喜欢的事，比如阅读课</tspan><tspan x="2001.6" dy="15.4">外读物、体育运动或做一些手工制作;也提高</tspan><tspan x="2001.6" dy="15.4">了课堂效率——一节课内，学生需要完成四</tspan><tspan x="2001.6" dy="15.4">个不同内容的活动，学生不容易感到疲劳和厌</tspan><tspan x="2001.6" dy="15.4">倦，整节课都能集中精力。</tspan></text></g>
<g id="p2" class="n"><rect x="1769" y="1928" width="215" height="27" rx="4"/><text class="t" x="1775" y="1946">二、运用现代媒体，提高学生学习兴趣</text></g>
<g id="q3" class="n"><rect x="2007" y="1889.6" width="252" height="104.9" rx="4"/><text class="t"><tspan x="2013" y="1908.1">多媒体能把文字、图像、声音、动画和视频信</tspan><tspan x="2013" dy="15.4">息等众多信息集于一体，能在视觉、听觉上产</tspan><tspan x="2013" dy="15.4">生丰富的刺激，引起学生的注意，激发学生的</tspan><tspan x="2013" dy="15.4">学习兴趣，使学生产生强烈的学习欲望，能使</tspan><tspan x="2013" dy="15.4">抽象的概念具体化，静态的知识形象化，有利</tspan><tspan x="2013" dy="15.4">于学生对知识的获取、记忆。</tspan></text></g>
<g id="p3" class="n"><rect x="1769" y="2073" width="215" height="27" rx="4"/><text class="t" x="1775" y="2091">三、加强实验教学，增强学生实践能力</text></g>
<g id="q4" class="n"><rect x="2007" y="2018.7" width="252" height="135.7" rx="4"/><text class="t"><tspan x="2013" y="2037.2">遵循物理教学规律和物理学科的特点，以实验</tspan><tspan x="2013" dy="15.4">启动物理概念、定理、定律的教学。在演示实</tspan><tspan x="2013" dy="15.4">验中，引导学生有目的的观察，启发积极思维</tspan><tspan x="2013" dy="15.4">，提示物理现象的本质。组织好学生实验，充</tspan><tspan x="2013" dy="15.4">分发挥学生的主动性，培养学生独立操作的能</tspan><tspan x="2013" dy="15.4">力、团结协作的精神和学生自主创新的能力。</tspan><tspan x="2013" dy="15.4">配合校园文化节，开展了物理小制作比赛，极</tspan><tspan x="2013" dy="15.4">大地调动了学生们动手做实验的热情。</tspan></text></g>
<g id="p4" class="n"><rect x="1769" y="2273" width="203" height="27" rx="4"/><text class="t" x="1775" y="2291">四、因材施教，整体性提高学生成绩</text></g>
<g id="q5" class="n"><rect x="1995.6" y="2180" width="251" height="212.7" rx="4"/><text class="t"><tspan x="2001.6" y="2198.5">学生智力、素质的参差必然导致教学的不统一</tspan><tspan x="2001.6" dy="15.4">性，在教学的过程中注意兼顾全体学生，难易</tspan><tspan x="2001.6" dy="15.4">有度，激励先进学生，鼓励后进生。对学习成</tspan><tspan x="2001.6" dy="15.4">绩优秀的学生，重点给予学习方法上的指导，</tspan><tspan x="2001.6" dy="15.4">提高他们的自学能力，鼓励、倡导他们超前学</tspan><tspan x="2001.6" dy="15.4">习，指导他们适当拓宽学习内容、加深学习深</tspan><tspan x="2001.6" dy="15.4">度、提高学习难度，争当"领跑者"。特别关注</tspan><tspan x="2001.6" dy="15.4">有学习欲望但学习困难的学生，经常与他们沟</tspan><tspan x="2001.6" dy="15.4">通，了解他们的困难所在，经常表扬他们的进</tspan><tspan x="2001.6" dy="15.4">步，放大他们的闪光点，增强他们的学习信心</tspan><tspan x="2001.6" dy="15.4">和学习热情，再循序渐进地指导他们掌握一些</tspan><tspan x="2001.6" dy="15.4">简单有效的巩固知识的技巧，尽可能使他们感</tspan><tspan x="2001.6" dy="15.4">觉到"付出总有回报"。</tspan></text></g>

<g id="r1" class="n"><rect x="1769" y="2418" width="251" height="166.5" rx="4"/><text class="t"><tspan x="1775" y="2436.5">我担任初三物理教学，兼职学校政教副主任和</tspan><tspan x="1775" dy="15.4">学校工会工作。一年来，本人以学校及各处组</tspan><tspan x="1775" dy="15.4">工作计划为指导;以加强师德师风建设，提高</tspan><tspan x="1775" dy="15.4">师德水平为重点，以提高教育教学成绩为中心</tspan><tspan x="1775" dy="15.4">，以深化课改实验工作为动力，认真履行岗位</tspan><tspan x="1775" dy="15.4">职责，较好地完成了工作目标任务。回顾这一</tspan><tspan x="1775" dy="15.4">学期，忙碌而又充实，付出了，努力了，收获</tspan><tspan x="1775" dy="15.4">了，也成熟了。现将本学年的工作做一个小结</tspan><tspan x="1775" dy="15.4">，总结过去，展望未来，寄望明天工作的更好</tspan><tspan x="1775" dy="15.4">。</tspan></text></g>
<g id="r2" class="n"><rect x="1769" y="2680" width="191.5" height="27" rx="4"/><text class="t" x="1775" y="2698">一、加强学习，努力提高自身素质</text></g>
<g id="s1" class="n"><rect x="1983" y="2610.8" width="251" height="166.5" rx="4"/><text class="t"><tspan x="1989" y="2629.3">教师，肩负教书育人的职责，行为上要为人师</tspan><tspan x="1989" dy="15.4">表，业务上要精益求精。因此只有不断充电才</tspan><tspan x="1989" dy="15.4">能永葆教学的青春和活力。一方面，认真学习</tspan><tspan x="1989" dy="15.4">教师职业道德规范、"三个代表"重要思想，不</tspan><tspan x="1989" dy="15.4">断提高自己的道德修养和政治理论水平;另一</tspan><tspan x="1989" dy="15.4">方面，认真学习新课改理论，努力提高业务能</tspan><tspan x="1989" dy="15.4">力，参加自学考试，努力提高自己的学历水平</tspan><tspan x="1989" dy="15.4">。通过这些学习活动，不断充实了自己、丰富</tspan><tspan x="1989" dy="15.4">了自己的知识和见识、为自己更好的教学实践</tspan><tspan x="1989" dy="15.4">作好了准备。</tspan></text></g>
<g id="r3" class="n"><rect x="1769" y="3059" width="191.5" height="26.6" rx="4"/><text class="t" x="1775" y="3076.8">二、求实创新，认真开展教学工作</text></g>
<g id="s2" class="n"><rect x="1983" y="3043.6" width="251" height="58.7" rx="4"/><text class="t"><tspan x="1989" y="3062.1">教学的最终的目标就是要提高教学质量，而其</tspan><tspan x="1989" dy="15.4">关键就是上好课。能把知识点落实到位，为了</tspan><tspan x="1989" dy="15.4">上好课，我做了下面的工作：</tspan></text></g>
<g id="t1" class="n"><rect x="2257.7" y="2801.6" width="251" height="135.7" rx="4"/><text class="t"><tspan x="2263.7" y="2820.1">1、在课前深入钻研、细心挖掘教材，把握教</tspan><tspan x="2263.7" dy="15.4">材的基本思想、基本概念、教材结构、重点与</tspan><tspan x="2263.7" dy="15.4">难点;了解学生的知识基础，力求在备课的过</tspan><tspan x="2263.7" dy="15.4">程中即备教材又备学生，了解学生原有的知识</tspan><tspan x="2263.7" dy="15.4">技能的质量，他们的兴趣、需要、方法、习惯</tspan><tspan x="2263.7" dy="15.4">，学习新知识可能会有哪些困难，采取相应的</tspan><tspan x="2263.7" dy="15.4">预防措施。在此基础上，精心制作多媒体课件</tspan><tspan x="2263.7" dy="15.4">。精心备写每一个教案</tspan></text></g>
<g id="t2" class="n"><rect x="2257.7" y="2963" width="251" height="120.3" rx="4"/><text class="t"><tspan x="2263.7" y="2981.5">2、在课堂上，组织好课堂教学，关注全体学</tspan><tspan x="2263.7" dy="15.4">生，注意信息反馈。激发学生的情感，使他们</tspan><tspan x="2263.7" dy="15.4">产生愉悦的心境，创造良好的课堂气氛，课堂</tspan><tspan x="2263.7" dy="15.4">语言简洁明了。激发学生的学习兴趣，向课堂</tspan><tspan x="2263.7" dy="15.4">45分钟要质量，努力提高课堂教学效率;课堂</tspan><tspan x="2263.7" dy="15.4">上讲练结合，布置好家庭作业，作业少而精，</tspan><tspan x="2263.7" dy="15.4">减轻学生的负担。</tspan></text></g>
<g id="t3" class="n"><rect x="2257.7" y="3108" width="251" height="104.9" rx="4"/><text class="t"><tspan x="2263.7" y="3126.5">3、在课后，认真及时批改作业，及时做好后</tspan><tspan x="2263.7" dy="15.4">进学生的思想工作及课后辅导工作;在自习课</tspan><tspan x="2263.7" dy="15.4">上，积极落实分层施教的原则，狠抓后进生的</tspan><tspan x="2263.7" dy="15.4">转化和优生的培养;同时，进行阶段性检测，</tspan><tspan x="2263.7" dy="15.4">及时了解学情，以便对症下药，调整教学策略</tspan><tspan x="2263.7" dy="15.4">。</tspan></text></g>
<g id="t4" class="n"><rect x="2257.7" y="3238.6" width="251" height="74.1" rx="4"/><text class="t"><tspan x="2263.7" y="3257.1">4、在平时认真参加教研活动，积极参与听课</tspan><tspan x="2263.7" dy="15.4">、评课，虚心向同行学习，博采众长，提高教</tspan><tspan x="2263.7" dy="15.4">学水平。一年来，本人共听课30节，完成了</tspan><tspan x="2263.7" dy="15.4">学校规定的听课任务。</tspan></text></g>
<g id="r4" class="n"><rect x="1769" y="3547" width="131" height="26" rx="4"/><text class="t" x="1775" y="3564.5">三、切实抓好教学工作</text></g>
<g id="u1" class="n"><rect x="1922" y="3338" width="252" height="89.5" rx="4"/><text class="t"><tspan x="1928" y="3356.5">个别学生纪律开始松动起来，不喜欢别人对他</tspan><tspan x="1928" dy="15.4">们的行为约束和管教，一些不良行为随之而来</tspan><tspan x="1928" dy="15.4">，如旷课等，面对这些违纪情况，如果不注意</tspan><tspan x="1928" dy="15.4">引导或引导不当，学生很容易在这个特殊的学</tspan><tspan x="1928" dy="15.4">习和生活阶段走入岔道。</tspan></text></g>
<g id="u2" class="n"><rect x="1922" y="3726" width="108.6" height="26" rx="4"/><text class="t" x="1928" y="3743.5">我的具体做法是：</text></g>
<g id="v1" class="n"><rect x="2053" y="3452" width="252" height="89.5" rx="4"/><text class="t"><tspan x="2059" y="3470.5">1、加大学习、执行《中学生守则》、《中学</tspan><tspan x="2059" dy="15.4">生日常行为规范》的力度。我借助主题班会、</tspan><tspan x="2059" dy="15.4">演讲会、竞赛等各种形式的活动，来引导学生</tspan><tspan x="2059" dy="15.4">学习，执行《中学生守则》和《中学生日常行</tspan><tspan x="2059" dy="15.4">为规范》，严格要求学生。</tspan></text></g>
<g id="v2" class="n"><rect x="2053" y="3567.5" width="252" height="104.9" rx="4"/><text class="t"><tspan x="2059" y="3586">2、注意树立榜样。俗话说"说一千，道一万</tspan><tspan x="2059" dy="15.4">，不如亲身示范。"榜样的力量是无穷的。班</tspan><tspan x="2059" dy="15.4">主任言行举止特别重要，要求学生不迟到，不</tspan><tspan x="2059" dy="15.4">旷课，班主任首先要做到，要求学生讲文明，</tspan><tspan x="2059" dy="15.4">讲卫生，班主任事先要做到，平时注意严于律</tspan><tspan x="2059" dy="15.4">己，以身作则，时时提醒自己为人师表。</tspan></text></g>
<g id="v3" class="n"><rect x="2053" y="3698.5" width="252" height="197.3" rx="4"/><text class="t"><tspan x="2059" y="3717">3、注意寓教于乐，以多种形式规范学生行为</tspan><tspan x="2059" dy="15.4">。心理学告诉我们：人的接受心理由观察能力</tspan><tspan x="2059" dy="15.4">、感知能力、认识水平、兴趣爱好等心理因素</tspan><tspan x="2059" dy="15.4">构成，因此，具有广泛性、多样性、综合性的</tspan><tspan x="2059" dy="15.4">特点，单一的教育管理方式不适合人的接受心</tspan><tspan x="2059" dy="15.4">理，开展丰富多彩的活动，寓教于乐中正好适</tspan><tspan x="2059" dy="15.4">合学生的心理特点，能提高教育管理的可接受</tspan><tspan x="2059" dy="15.4">性。为此，我先后开过多次主题班会，中《规</tspan><tspan x="2059" dy="15.4">范一道德》，《我是主人》、《理想与信念》</tspan><tspan x="2059" dy="15.4">、《要学会学习》、《神圣的使命》。开展优</tspan><tspan x="2059" dy="15.4">生学习经验交流会，举办知识抢答竞赛，效果</tspan><tspan x="2059" dy="15.4">都很好。</tspan></text></g>
<g id="v4" class="n"><rect x="2053" y="3920.7" width="252" height="120.3" rx="4"/><text class="t"><tspan x="2059" y="3939.2">4、"三位一体"的互促法。教育是一项艰巨的</tspan><tspan x="2059" dy="15.4">任务，单靠班主任显然是不够的，而要充靠各</tspan><tspan x="2059" dy="15.4">种力量的齐抓共管。通过班主任的工作，把学</tspan><tspan x="2059" dy="15.4">校、社会、家庭组合成一个整体，形成教育的</tspan><tspan x="2059" dy="15.4">合力，达到互相促进的目的。我定期家访，或</tspan><tspan x="2059" dy="15.4">电话联系，及时反馈学生情况，取得家长的支</tspan><tspan x="2059" dy="15.4">持，收到了良好的效果</tspan></text></g>
<g id="r5" class="n"><rect x="1769" y="4125.5" width="107" height="25" rx="4"/><text class="t" x="1775" y="4142.5">四、教育教学成果</text></g>
<g id="w1" class="n"><rect x="1898.6" y="4065.8" width="252" height="43.3" rx="4"/><text class="t"><tspan x="1904.6" y="4084.3">一份耕耘，一份收获;经过自己的不懈努力。</tspan><tspan x="1904.6" dy="15.4">取得了较优异的成成绩。</tspan></text></g>
<g id="w2" class="n"><rect x="1898.6" y="4133.7" width="252" height="104.9" rx="4"/><text class="t"><tspan x="1904.6" y="4152.2">我任物理教师学习气氛浓厚，班风稳定。学习</tspan><tspan x="1904.6" dy="15.4">成绩优秀。在全乡期末统考中，获四个第一名</tspan><tspan x="1904.6" dy="15.4">、两个第二名的好成绩。我的物理科更是以人</tspan><tspan x="1904.6" dy="15.4">平分高出校平均17分遥居榜首。我班也评为</tspan><tspan x="1904.6" dy="15.4">优秀班团集体。我也在年度考核中被评为优秀</tspan><tspan x="1904.6" dy="15.4">。</tspan></text></g>

<g id="x1" class="n"><rect x="1835" y="4263.7" width="221" height="26.5" rx="4"/><text class="t" x="1841" y="4281.3">★ 2021九年级物理实验课教学总结报告</text></g>
<g id="x2" class="n"><rect x="1835" y="4317" width="218" height="26.5" rx="4"/><text class="t" x="1841" y="4334.6">★ 优秀物理教师个人教学情况总结简短</text></g>
<g id="x3" class="n"><rect x="1835" y="4370.4" width="169" height="26.5" rx="4"/><text class="t" x="1841" y="4388">★ 物理教师教学总结范文范本</text></g>
<g id="x4" class="n"><rect x="1835" y="4423.7" width="193" height="26.5" rx="4"/><text class="t" x="1841" y="4441.3">★ 学校物理教师教学工作总结报告</text></g>
<g id="x5" class="n"><rect x="1835" y="4477" width="169" height="26.5" rx="4"/><text class="t" x="1841" y="4494.6">★ 物理教师的工作总结通用版</text></g>
<g id="x6" class="n"><rect x="1835" y="4530.4" width="193" height="26.5" rx="4"/><text class="t" x="1841" y="4548">★ 物理教育教学经验个人总结范本</text></g>
<g id="x7" class="n"><rect x="1835" y="4583.7" width="205" height="26.5" rx="4"/><text class="t" x="1841" y="4601.3">★ 物理教师期末教学工作总结万能版</text></g>
<g id="x8" class="n"><rect x="1835" y="4637" width="205" height="26.5" rx="4"/><text class="t" x="1841" y="4654.6">★ 学校物理教学教育工作总结精简版</text></g>
<g id="x9" class="n"><rect x="1835" y="4690.4" width="193" height="26.5" rx="4"/><text class="t" x="1841" y="4708">★ 学校物理教师年度总结范文五篇</text></g>
<g id="x10" class="n"><rect x="1835" y="4743.7" width="181" height="26.5" rx="4"/><text class="t" x="1841" y="4761.3">★ 物理教师个人工作总结范文</text></g>
</g>
</svg>
